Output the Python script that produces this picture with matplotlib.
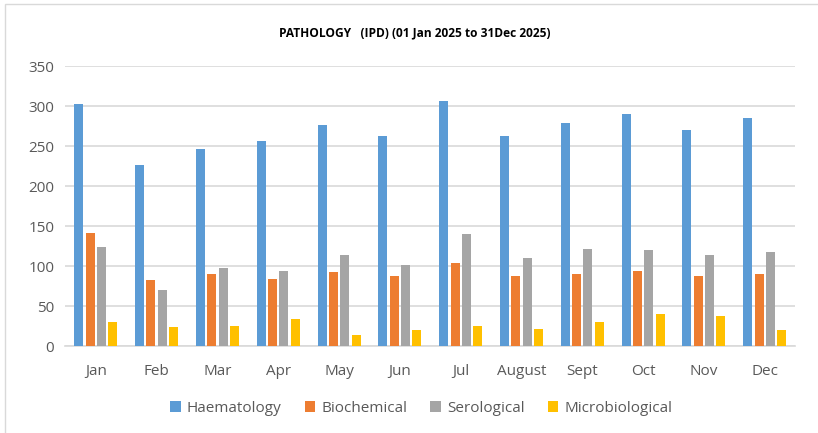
import numpy as np
import matplotlib.pyplot as plt

plt.rcParams['font.family'] = ['Open Sans', 'DejaVu Sans']

months = ["Jan", "Feb", "Mar", "Apr", "May", "Jun", "Jul", "August",
          "Sept", "Oct", "Nov", "Dec"]
haematology = [303, 227, 247, 256, 276, 263, 306, 263, 279, 290, 270, 285]
biochemical = [142, 83, 91, 84, 93, 88, 104, 88, 91, 94, 88, 91]
serological = [124, 70, 98, 94, 114, 102, 140, 110, 122, 120, 114, 118]
microbiological = [30, 24, 26, 34, 14, 20, 26, 22, 30, 40, 38, 20]

series = [("Haematology", haematology, "#5b9bd5"),
          ("Biochemical", biochemical, "#ed7d31"),
          ("Serological", serological, "#a5a5a5"),
          ("Microbiological", microbiological, "#ffc000")]

fig = plt.figure(figsize=(8.18, 4.33), dpi=100)
ax = fig.add_axes([0.08, 0.2, 0.892, 0.647])

x = np.arange(len(months))
w = 0.148
step = 0.186
for i, (name, vals, col) in enumerate(series):
    ax.bar(x + (i - 1.5) * step, vals, w, color=col, label=name, zorder=3)

ax.set_xlim(-0.5, len(months) - 0.5)
ax.set_ylim(0, 350)
ax.set_yticks(range(0, 351, 50))
ax.set_xticks(x)
ax.set_xticklabels(months)
ax.grid(axis='y', color='#d9d9d9', linewidth=1.2, zorder=0)
for s in ['top', 'right', 'left']:
    ax.spines[s].set_visible(False)
ax.spines['bottom'].set_color('#d9d9d9')
ax.spines['bottom'].set_linewidth(1.2)
ax.tick_params(length=0, labelsize=11, colors='#595959', pad=8)
ax.tick_params(axis='x', pad=13)

fig.text(0.507, 0.923, "PATHOLOGY   (IPD) (01 Jan 2025 to 31Dec 2025)",
         ha='center', va='center', fontsize=8.6, fontweight='bold')
fig.legend(loc='center', bbox_to_anchor=(0.515, 0.057), ncol=4, frameon=False,
           fontsize=11, handlelength=0.7, handleheight=0.7, columnspacing=1.5,
           handletextpad=0.4, labelcolor='#595959')

# light frame round the chart
fig.add_artist(plt.Rectangle((0.006, -0.05), 1.2, 1.04, fill=False,
                             edgecolor='#d9d9d9', linewidth=1,
                             transform=fig.transFigure))

fig.savefig("out.png", dpi=100)
